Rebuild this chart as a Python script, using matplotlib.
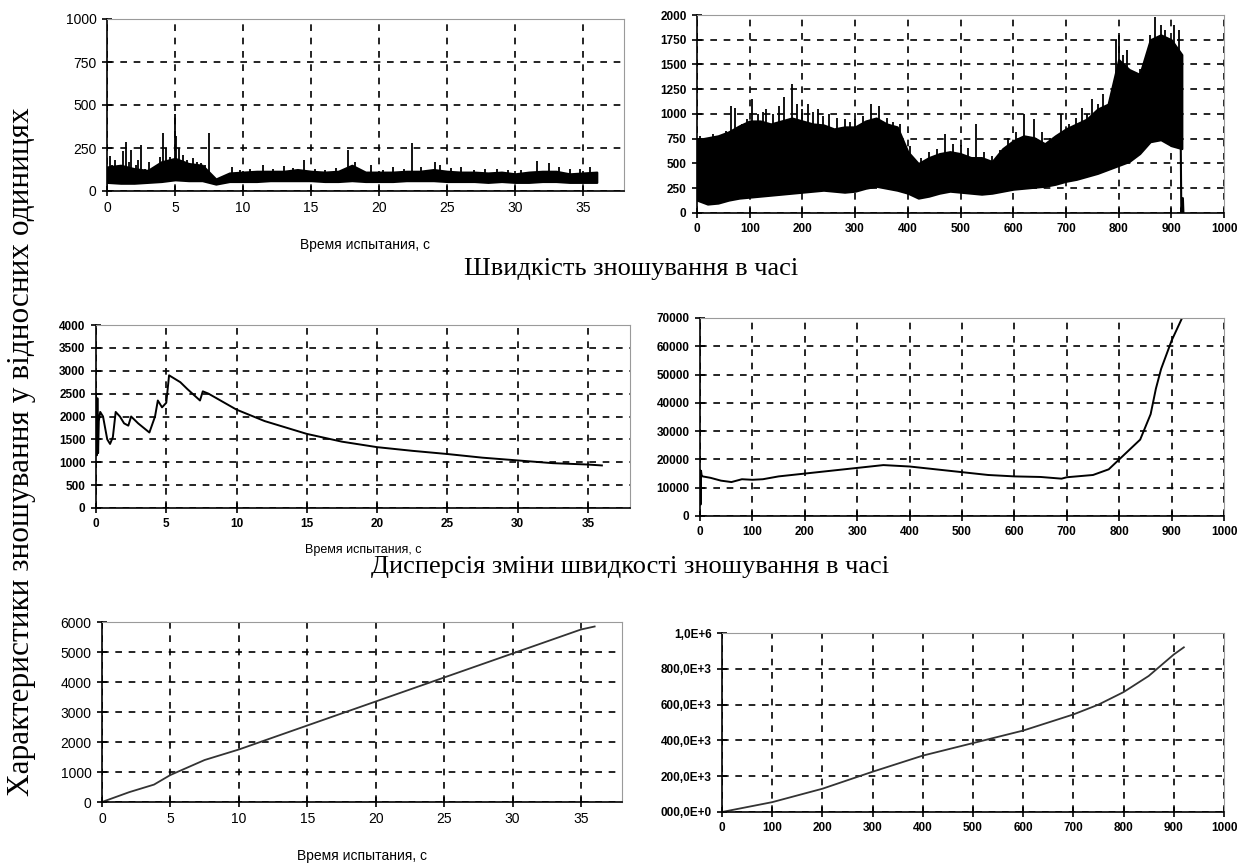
import numpy as np
import matplotlib
matplotlib.use("Agg")
import matplotlib.pyplot as plt

W, H = 1244, 865

# --- top left: wear rate, 0..36 s (band envelope + spikes) ---
tl_t = list(range(0, 37))
tl_hi = [140, 150, 130, 120, 170, 190, 160, 150, 70, 105, 110, 115, 115, 115, 125, 115, 110, 115,
         150, 110, 110, 110, 115, 115, 125, 115, 110, 110, 105, 110, 100, 110, 115, 115, 100, 105, 110]
tl_lo = [50, 45, 45, 50, 55, 65, 60, 60, 40, 55, 55, 55, 60, 60, 60, 60, 55, 55,
         60, 55, 55, 55, 60, 60, 60, 55, 55, 55, 50, 55, 50, 50, 55, 55, 50, 50, 50]
tl_spike_t = [0.2, 0.4, 0.6, 0.9, 1.2, 1.36, 1.6, 1.8, 2.1, 2.3, 2.5, 2.8, 3.1, 3.5, 3.9, 4.1,
              4.3, 4.6, 5.0, 5.1, 5.3, 5.6, 5.9, 6.3, 6.6, 6.9, 7.2, 7.5, 8.8, 9.2, 9.8, 10.5,
              11.5, 12.2, 13.0, 13.7, 14.5, 15.3, 16.0, 16.8, 17.7, 18.2, 19.4, 20.3, 21.0, 21.8,
              22.4, 23.1, 24.1, 24.5, 25.3, 26.0, 27.0, 27.8, 28.7, 29.5, 30.4, 31.6, 32.5, 33.2,
              34.0, 34.8, 35.5]
tl_spike_v = [205, 150, 180, 140, 230, 287, 170, 238, 150, 180, 267, 130, 170, 140, 200, 340,
              250, 200, 446, 320, 250, 210, 180, 190, 170, 160, 150, 340, 100, 140, 120, 130,
              150, 130, 145, 135, 183, 130, 120, 135, 240, 170, 150, 125, 140, 130,
              279, 140, 167, 150, 135, 140, 125, 130, 130, 120, 125, 177, 160, 140,
              130, 130, 140]

# --- top right: wear rate, 0..920 (band envelope + spikes) ---
tr_t = list(range(0, 921, 20))
tr_hi = [740, 760, 780, 820, 880, 930, 930, 900, 930, 960, 930, 900, 890, 850, 870, 870, 930, 960,
         900, 870, 620, 500, 560, 600, 620, 600, 560, 560, 520, 650, 730, 780, 760, 700, 780, 850,
         900, 950, 1050, 1100, 1550, 1450, 1400, 1750, 1800, 1750, 1600]
tr_lo = [130, 90, 100, 130, 150, 160, 170, 180, 190, 200, 210, 220, 230, 220, 210, 220, 250, 270,
         250, 230, 200, 150, 170, 200, 220, 210, 200, 190, 200, 220, 240, 250, 260, 270, 290, 320,
         340, 370, 400, 440, 480, 520, 600, 720, 740, 680, 650]
tr_spike_t = [5, 15, 30, 45, 55, 65, 72, 85, 95, 105, 115, 125, 130, 145, 155, 165, 180, 190, 200,
              210, 220, 230, 240, 250, 265, 280, 290, 300, 315, 330, 345, 360, 372, 385, 405, 425,
              440, 455, 470, 485, 500, 515, 530, 545, 560, 575, 590, 605, 620, 640, 655, 670, 690,
              705, 720, 730, 740, 750, 760, 770, 785, 795, 800, 808, 815, 830, 840, 850, 860, 870,
              880, 888, 895, 905, 915]
tr_spike_v = [780, 760, 800, 790, 830, 1080, 1060, 900, 950, 1150, 1000, 1020, 1050, 1000, 1080,
              1170, 1300, 1100, 1050, 1100, 1020, 1050, 980, 1000, 960, 950, 920, 950, 980, 1100,
              1080, 960, 920, 900, 680, 560, 620, 650, 800, 700, 690, 660, 900, 620, 580, 640, 760,
              820, 1000, 950, 820, 760, 1000, 900, 960, 1060, 1000, 1150, 1100, 1200, 1150, 1750,
              1800, 1600, 1650, 1250, 1450, 1500, 1800, 1980, 1900, 1850, 1700, 1900, 1850]
tr_tail_t = [918, 919, 922, 923]
tr_tail_v = [650, 0, 150, 0]

# --- middle: dispersion ---
ml_t = [0, 0.05, 0.1, 0.15, 0.2, 0.3, 0.5, 0.8, 1.0, 1.2, 1.4, 1.7, 2.0, 2.3, 2.5, 3.0, 3.8, 4.2,
        4.4, 4.7, 5.0, 5.2, 6.0, 6.5, 7.4, 7.6, 8.0, 10, 12, 15, 17.5, 20, 22.5, 25, 27.5, 30, 32.5, 35, 36]
ml_v = [2500, 1150, 2400, 1200, 1900, 2100, 2000, 1500, 1400, 1550, 2100, 2000, 1850, 1800, 2000,
        1850, 1650, 2000, 2350, 2200, 2300, 2900, 2750, 2600, 2350, 2550, 2500, 2150, 1900, 1620,
        1450, 1330, 1250, 1180, 1100, 1040, 980, 950, 930]

mr_t = [0, 1, 2, 3, 5, 20, 40, 60, 80, 100, 120, 150, 200, 250, 300, 350, 400, 450, 500, 550,
        600, 650, 690, 700, 750, 780, 800, 820, 840, 860, 870, 880, 900, 920]
mr_v = [16000, 4000, 16000, 14500, 14000, 13500, 12500, 12000, 13000, 12800, 13000, 14000, 15000,
        16000, 17000, 18000, 17500, 16500, 15500, 14500, 14000, 13800, 13200, 13700, 14500, 16500,
        20000, 23500, 27000, 36000, 45000, 52000, 62000, 70000]

# --- bottom: cumulative wear ---
bl_t = [0, 2, 3.8, 5, 7.5, 8, 10, 15, 20, 25, 30, 35, 36]
bl_v = [0, 330, 580, 900, 1400, 1470, 1750, 2550, 3350, 4150, 4950, 5750, 5850]

br_t = [0, 100, 200, 300, 400, 500, 600, 700, 750, 800, 850, 900, 920]
br_v = [0, 55000, 130000, 225000, 315000, 385000, 455000, 545000, 600000, 670000, 760000, 880000, 920000]
br_ticks = [0, 200000, 400000, 600000, 800000, 1000000]
br_labels = ["000,0E+0", "200,0E+3", "400,0E+3", "600,0E+3", "800,0E+3", "1,0E+6"]

xlabel = "Время испытания, с"
title1 = "Швидкість зношування в часі"
title2 = "Дисперсія зміни швидкості зношування в часі"
ylabel = "Характеристики зношування у відносних одиницях"


def rect(l, r, t, b):
    return [l / W, 1 - b / H, (r - l) / W, (b - t) / H]


def style(ax, xlim, xstep, ylim, ystep, fs=10, bold=False):
    ax.set_xlim(*xlim)
    ax.set_ylim(*ylim)
    ax.set_xticks(np.arange(xlim[0], xlim[1] + 0.1, xstep))
    ax.set_yticks(np.arange(ylim[0], ylim[1] + 0.1, ystep))
    ax.grid(True, color="black", linestyle=(0, (4, 4)), linewidth=1.2)
    for s in ["top", "right"]:
        ax.spines[s].set_color("#9a9a9a")
    for s in ["left", "bottom"]:
        ax.spines[s].set_color("black")
        ax.spines[s].set_linewidth(1.2)
    ax.tick_params(direction="inout", length=7, width=1.2, labelsize=fs, pad=4)
    for lab in ax.get_xticklabels() + ax.get_yticklabels():
        lab.set_family("Liberation Sans")
        if bold:
            lab.set_fontweight("bold")


fig = plt.figure(figsize=(W / 100, H / 100), dpi=100)

# top left
ax1 = fig.add_axes(rect(107, 624, 19, 191))
ax1.fill_between(tl_t, tl_lo, tl_hi, color="black", linewidth=1.5, edgecolor="black")
ax1.vlines(tl_spike_t, np.interp(tl_spike_t, tl_t, tl_lo), tl_spike_v, color="black", linewidth=1.3)
style(ax1, (0, 38), 5, (0, 1000), 250)
ax1.set_xticks(range(0, 36, 5))
ax1.set_xlabel(xlabel, family="Liberation Sans", fontsize=10, labelpad=16)

# top right
ax2 = fig.add_axes(rect(697, 1224, 15, 213))
ax2.fill_between(tr_t, tr_lo, tr_hi, color="black", linewidth=1.5, edgecolor="black")
ax2.vlines(tr_spike_t, np.interp(tr_spike_t, tr_t, tr_lo), tr_spike_v, color="black", linewidth=1.3)
ax2.plot(tr_tail_t, tr_tail_v, color="black", linewidth=1.5)
style(ax2, (0, 1000), 100, (0, 2000), 250, fs=8.5, bold=True)

# middle left
ax3 = fig.add_axes(rect(96, 630, 325, 508))
ax3.plot(ml_t, ml_v, color="black", linewidth=1.4)
style(ax3, (0, 38), 5, (0, 4000), 500, fs=8.5, bold=True)
ax3.set_xticks(range(0, 36, 5))
ax3.set_xlabel(xlabel, family="Liberation Sans", fontsize=9, labelpad=10)

# middle right
ax4 = fig.add_axes(rect(700, 1224, 318, 516))
ax4.plot(mr_t, mr_v, color="black", linewidth=1.4)
style(ax4, (0, 1000), 100, (0, 70000), 10000, fs=8.5, bold=True)

# bottom left
ax5 = fig.add_axes(rect(102, 622, 622, 802))
ax5.plot(bl_t, bl_v, color="#333333", linewidth=1.3)
style(ax5, (0, 38), 5, (0, 6000), 1000)
ax5.set_xticks(range(0, 36, 5))
ax5.set_xlabel(xlabel, family="Liberation Sans", fontsize=10, labelpad=16)

# bottom right
ax6 = fig.add_axes(rect(722, 1224, 633, 812))
ax6.plot(br_t, br_v, color="#333333", linewidth=1.3)
style(ax6, (0, 1000), 100, (0, 1000000), 200000, fs=8.5, bold=True)
ax6.set_yticks(br_ticks)
ax6.set_yticklabels(br_labels, family="Liberation Sans", fontweight="bold", fontsize=8.5)

fig.text(631 / W, 1 - 269 / H, title1, family="Liberation Serif", fontsize=19, ha="center", va="center")
fig.text(630 / W, 1 - 567 / H, title2, family="Liberation Serif", fontsize=19, ha="center", va="center")
fig.text(22 / W, 1 - 452 / H, ylabel, family="Liberation Serif", fontsize=22.5, rotation=90,
         ha="center", va="center")

fig.savefig("out.png", dpi=100)
